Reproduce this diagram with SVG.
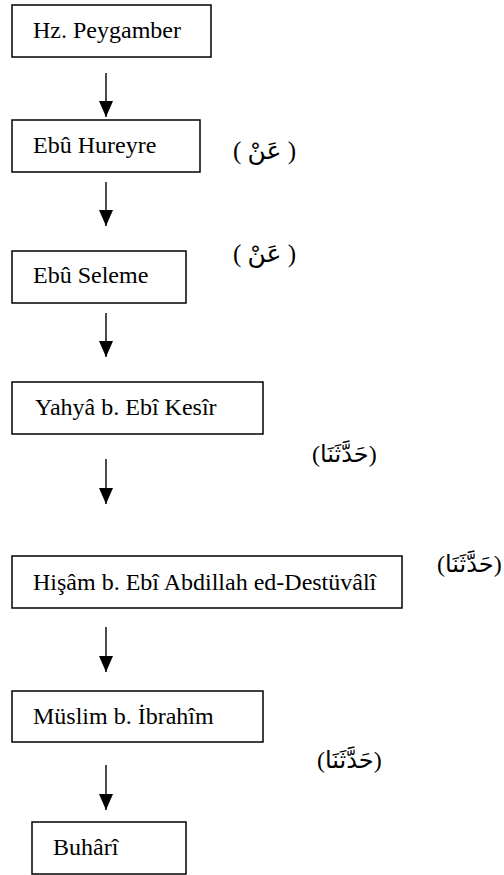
<svg xmlns="http://www.w3.org/2000/svg" width="504" height="875" viewBox="0 0 504 875">
<style>
.box{fill:#fff;stroke:#000;stroke-width:1.5}
.t{font-family:"Liberation Serif","Times New Roman",serif;font-size:24px;fill:#000}
.ar{font-family:"Liberation Serif","DejaVu Sans",serif;fill:#000}
.an{font-size:25px}
.hd{font-size:24px}
.c{stroke:#000;stroke-width:1.4;fill:none}
</style>
<defs>
<marker id="ah" markerUnits="userSpaceOnUse" markerWidth="16" markerHeight="16" viewBox="0 0 16 14" refX="16" refY="7" orient="auto">
<path d="M0,0 L16,7 L0,14 Z" fill="#000"/>
</marker>
</defs>
<rect width="504" height="875" fill="#fff"/>
<g id="connectors">
<line class="c" x1="106" y1="73" x2="106" y2="117" marker-end="url(#ah)"/>
<line class="c" x1="106" y1="182" x2="106" y2="226" marker-end="url(#ah)"/>
<line class="c" x1="106" y1="313" x2="106" y2="357" marker-end="url(#ah)"/>
<line class="c" x1="106" y1="459" x2="106" y2="504" marker-end="url(#ah)"/>
<line class="c" x1="106" y1="627" x2="106" y2="672" marker-end="url(#ah)"/>
<line class="c" x1="106" y1="765" x2="106" y2="810" marker-end="url(#ah)"/>
</g>
<g id="n1"><rect class="box" x="12" y="5" width="199" height="52"/><text class="t" x="33" y="38">Hz. Peygamber</text></g>
<g id="n2"><rect class="box" x="12" y="120" width="188" height="52"/><text class="t" x="33" y="153">Ebû Hureyre</text></g>
<g id="n3"><rect class="box" x="12" y="251" width="174" height="52"/><text class="t" x="33" y="283">Ebû Seleme</text></g>
<g id="n4"><rect class="box" x="12" y="382" width="251" height="52"/><text class="t" x="35" y="415">Yahyâ b. Ebî Kesîr</text></g>
<g id="n5"><rect class="box" x="12" y="556" width="390" height="52"/><text class="t" x="33" y="590">Hişâm b. Ebî Abdillah ed-Destüvâlî</text></g>
<g id="n6"><rect class="box" x="12" y="691" width="251" height="51"/><text class="t" x="33" y="724">Müslim b. İbrahîm</text></g>
<g id="n7"><rect class="box" x="32" y="822" width="154" height="52"/><text class="t" x="53" y="855">Buhârî</text></g>
<g id="labels">
<text class="ar an" x="233" y="159">( عَنْ )</text>
<text class="ar an" x="233" y="262">( عَنْ )</text>
<text class="ar hd" x="312" y="462">(حَدَّثَنَا)</text>
<text class="ar hd" x="437" y="572">(حَدَّثَنَا)</text>
<text class="ar hd" x="317" y="768">(حَدَّثَنَا)</text>
</g>
</svg>
